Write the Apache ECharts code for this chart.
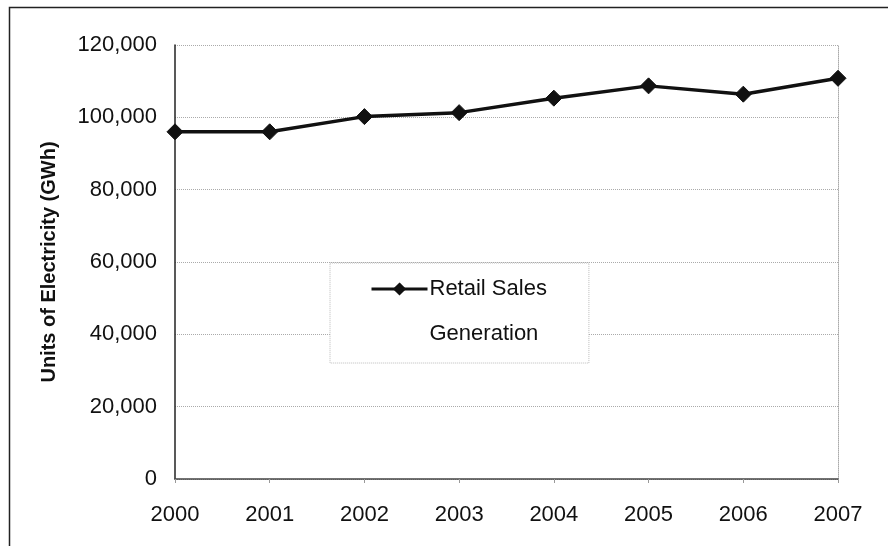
<!DOCTYPE html>
<html>
<head>
<meta charset="utf-8">
<script src="https://cdn.jsdelivr.net/npm/echarts@6/dist/echarts.min.js"></script>
<style>
  html, body { margin: 0; padding: 0; background: #fff; }
  #chart { width: 888px; height: 546px; }
</style>
</head>
<body>
<div id="chart"></div>
<script>
// Annual electricity units, 2000-2007
const years = ['2000', '2001', '2002', '2003', '2004', '2005', '2006', '2007'];
const retailSales = [96000, 96000, 100200, 101300, 105300, 108700, 106400, 110800];
const generation = [];
const yTicks = { min: 0, max: 120000, interval: 20000 };

const fontFamily = 'Arial, "Liberation Sans", Helvetica, sans-serif';
const chart = echarts.init(document.getElementById('chart'), null, { renderer: 'canvas' });

const fmt = v => v.toLocaleString('en-US');

chart.setOption({
  backgroundColor: '#fff',
  animation: false,
  graphic: [{
    type: 'rect',
    shape: { x: 9.5, y: 7.5, width: 900, height: 600 },
    style: { fill: 'none', stroke: '#222', lineWidth: 1.5 },
    silent: true,
    z: -1
  }],
  grid: { left: 175, right: 50, top: 45, bottom: 67, containLabel: false },
  legend: {
    orient: 'vertical',
    left: 330,
    top: 263,
    padding: [15, 42, 18, 40],
    itemGap: 23,
    itemWidth: 56,
    itemHeight: 13,
    backgroundColor: '#fff',
    borderColor: '#bbb',
    borderWidth: 1,
    borderType: 'dotted',
    lineStyle: { width: 3 },
    textStyle: { fontFamily, fontSize: 22, lineHeight: 22, color: '#111', padding: [0, 0, 0, -3] },
    data: ['Retail Sales', 'Generation']
  },
  xAxis: {
    type: 'category',
    data: years,
    boundaryGap: false,
    axisLine: { lineStyle: { color: '#444', width: 1.5 } },
    axisTick: { show: true, length: 4, inside: false, lineStyle: { color: '#999' } },
    axisLabel: { fontFamily, fontSize: 22, color: '#111', margin: 25 },
    splitLine: { show: false }
  },
  yAxis: [{
    type: 'value',
    min: yTicks.min,
    max: yTicks.max,
    interval: yTicks.interval,
    name: 'Units of Electricity (GWh)',
    nameLocation: 'middle',
    nameGap: 116,
    nameTextStyle: { fontFamily, fontSize: 20, fontWeight: 'bold', color: '#111' },
    axisLine: { show: true, lineStyle: { color: '#222', width: 1.5 } },
    axisTick: { show: false },
    axisLabel: { fontFamily, fontSize: 22, color: '#111', margin: 18, formatter: fmt },
    splitLine: { show: true, lineStyle: { color: '#aaa', type: 'dotted', width: 1 } }
  }, {
    type: 'value',
    position: 'right',
    min: yTicks.min,
    max: yTicks.max,
    interval: yTicks.interval,
    axisLine: { show: true, lineStyle: { color: '#aaa', type: 'dotted', width: 1 } },
    axisTick: { show: false },
    axisLabel: { show: false },
    splitLine: { show: false }
  }],
  series: [{
    name: 'Retail Sales',
    type: 'line',
    data: retailSales,
    symbol: 'diamond',
    symbolSize: 16,
    lineStyle: { color: '#111', width: 3.5 },
    itemStyle: { color: '#111', borderColor: '#111', borderWidth: 1 },
    z: 5
  }, {
    name: 'Generation',
    type: 'line',
    data: generation,
    symbol: 'none',
    lineStyle: { color: '#fff', width: 0 },
    itemStyle: { color: '#fff' }
  }]
});
</script>
</body>
</html>
